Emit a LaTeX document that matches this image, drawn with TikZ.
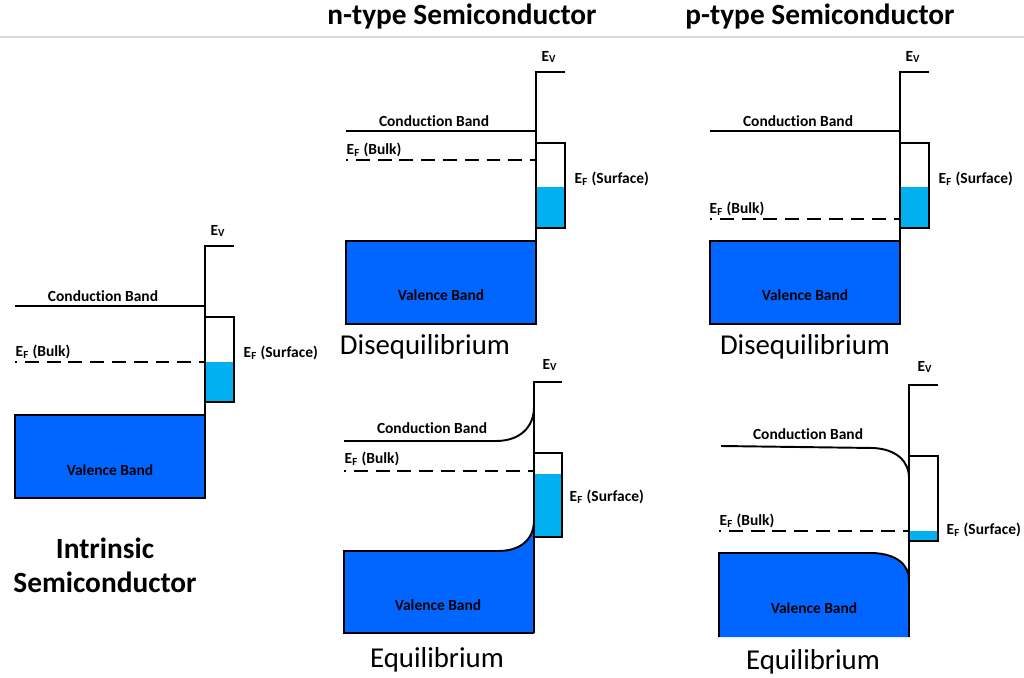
\documentclass[tikz,border=0pt]{standalone}
\usepackage{fontspec}
\setmainfont{Carlito}[Ligatures=NoCommon]
\usetikzlibrary{positioning}
\definecolor{vband}{RGB}{0,102,255}
\definecolor{fermi}{RGB}{0,176,240}
\definecolor{hrule}{RGB}{217,217,217}

\begin{document}
\begin{tikzpicture}[x=0.02cm,y=-0.02cm,line width=1.1pt,
  lbl/.style={font=\fontsize{8.8}{10}\selectfont\bfseries,inner sep=1pt},
  caption/.style={font=\fontsize{16.4}{19.3}\selectfont,inner sep=1pt},
  header/.style={font=\fontsize{16.7}{19.3}\selectfont\bfseries,inner sep=1pt},
  fermiline/.style={dash pattern=on 7.9pt off 4.5pt,dash phase=6.8pt}]
\def\bw{190}
\def\sw{29}
\useasboundingbox (0,0) rectangle (1024,678);

% headings
\node[header] (ntitle) at (462,17) {n-type Semiconductor};
\node[header] (ptitle) at (820,17) {p-type Semiconductor};
\draw[hrule,line width=0.6pt] (0,37) -- (1024,37);

% Intrinsic
\begin{scope}[shift={(15,246)}]
  \fill[vband] (0,169) rectangle (\bw,252);
  \draw (0,169) rectangle (\bw,252);
  \fill[fermi] (\bw,116) rectangle (\bw+\sw,156);
  \draw (\bw,71) rectangle (\bw+\sw,156);
  \draw (\bw+\sw,0) -- (\bw,0) -- (\bw,252);
  \draw (0,60) -- (\bw,60);
  \draw[fermiline] (0,116) -- (\bw,116);
  \node[lbl] (cbI) at (88,50) {Conduction Band};
  \node[lbl,anchor=west] (efbI) at (-2,106) {E\textsubscript{F} (Bulk)};
  \node[lbl,anchor=west] (efsI) at (\bw+36,107) {E\textsubscript{F} (Surface)};
  \node[lbl] (vbI) at (95,224) {Valence Band};
  \node[lbl] (evI) at (\bw+13,-15) {E\textsubscript{V}};
  \node[header,align=center] (capI) at (90,319) {Intrinsic\\Semiconductor};
\end{scope}

% n-type, disequilibrium
\begin{scope}[shift={(346,72)}]
  \fill[vband] (0,169) rectangle (\bw,252);
  \draw (0,169) rectangle (\bw,252);
  \fill[fermi] (\bw,115) rectangle (\bw+\sw,156);
  \draw (\bw,71) rectangle (\bw+\sw,156);
  \draw (\bw+\sw,0) -- (\bw,0) -- (\bw,252);
  \draw (0,59) -- (\bw,59);
  \draw[fermiline] (0,88) -- (\bw,88);
  \node[lbl] (cbND) at (88,49) {Conduction Band};
  \node[lbl,anchor=west] (efbND) at (-2,78) {E\textsubscript{F} (Bulk)};
  \node[lbl,anchor=west] (efsND) at (\bw+36,107) {E\textsubscript{F} (Surface)};
  \node[lbl] (vbND) at (95,223) {Valence Band};
  \node[lbl] (evND) at (\bw+13,-15) {E\textsubscript{V}};
  \node[caption] (capND) at (79,275) {Disequilibrium};
\end{scope}

% p-type, disequilibrium
\begin{scope}[shift={(710,72)}]
  \fill[vband] (0,169) rectangle (\bw,252);
  \draw (0,169) rectangle (\bw,252);
  \fill[fermi] (\bw,115) rectangle (\bw+\sw,156);
  \draw (\bw,71) rectangle (\bw+\sw,156);
  \draw (\bw+\sw,0) -- (\bw,0) -- (\bw,252);
  \draw (0,59) -- (\bw,59);
  \draw[fermiline] (0,147) -- (\bw,147);
  \node[lbl] (cbPD) at (88,49) {Conduction Band};
  \node[lbl,anchor=west] (efbPD) at (-3,137) {E\textsubscript{F} (Bulk)};
  \node[lbl,anchor=west] (efsPD) at (\bw+36,107) {E\textsubscript{F} (Surface)};
  \node[lbl] (vbPD) at (95,223) {Valence Band};
  \node[lbl] (evPD) at (\bw+13,-15) {E\textsubscript{V}};
  \node[caption] (capPD) at (95,275) {Disequilibrium};
\end{scope}

% n-type, equilibrium (bands bent up at the surface)
\begin{scope}[shift={(344,382)}]
  \fill[vband] (0,169) -- (154,169) .. controls (176,169) and (\bw,158) .. (\bw,138)
    -- (\bw,251) -- (0,251) -- cycle;
  \draw (\bw,251) -- (0,251) -- (0,169) -- (154,169)
    .. controls (176,169) and (\bw,158) .. (\bw,138);
  \fill[fermi] (\bw,92) rectangle (\bw+28,155);
  \draw (\bw,71) rectangle (\bw+28,155);
  \draw (\bw+28,0) -- (\bw,0) -- (\bw,251);
  \draw (0,59) -- (152,59) .. controls (176,59) and (\bw,45) .. (\bw,25);
  \draw[fermiline] (0,89) -- (\bw,89);
  \node[lbl] (cbNE) at (88,46) {Conduction Band};
  \node[lbl,anchor=west] (efbNE) at (-2,77) {E\textsubscript{F} (Bulk)};
  \node[lbl,anchor=west] (efsNE) at (\bw+33,115) {E\textsubscript{F} (Surface)};
  \node[lbl] (vbNE) at (94,223) {Valence Band};
  \node[lbl] (evNE) at (\bw+16,-17) {E\textsubscript{V}};
  \node[caption] (capNE) at (93,278) {Equilibrium};
\end{scope}

% p-type, equilibrium (bands bent down at the surface)
\begin{scope}[shift={(719,385)}]
  \fill[vband] (0,168) -- (154,168) .. controls (178,169) and (\bw,180) .. (\bw,195)
    -- (\bw,252) -- (0,252) -- cycle;
  \draw (0,252) -- (0,168) -- (154,168)
    .. controls (178,169) and (\bw,180) .. (\bw,195);
  \fill[fermi] (\bw,146) rectangle (\bw+\sw,156);
  \draw (\bw,71) rectangle (\bw+\sw,156);
  \draw (\bw+\sw,0) -- (\bw,0) -- (\bw,252);
  \draw (2,61) -- (154,63) .. controls (177,64) and (\bw,76) .. (\bw,93);
  \draw[fermiline] (0,146) -- (\bw,146);
  \node[lbl] (cbPE) at (89,49) {Conduction Band};
  \node[lbl,anchor=west] (efbPE) at (-2,136) {E\textsubscript{F} (Bulk)};
  \node[lbl,anchor=west] (efsPE) at (\bw+35,145) {E\textsubscript{F} (Surface)};
  \node[lbl] (vbPE) at (95,223) {Valence Band};
  \node[lbl] (evPE) at (\bw+16,-18) {E\textsubscript{V}};
  \node[caption] (capPE) at (94,277) {Equilibrium};
\end{scope}
\end{tikzpicture}
\end{document}
